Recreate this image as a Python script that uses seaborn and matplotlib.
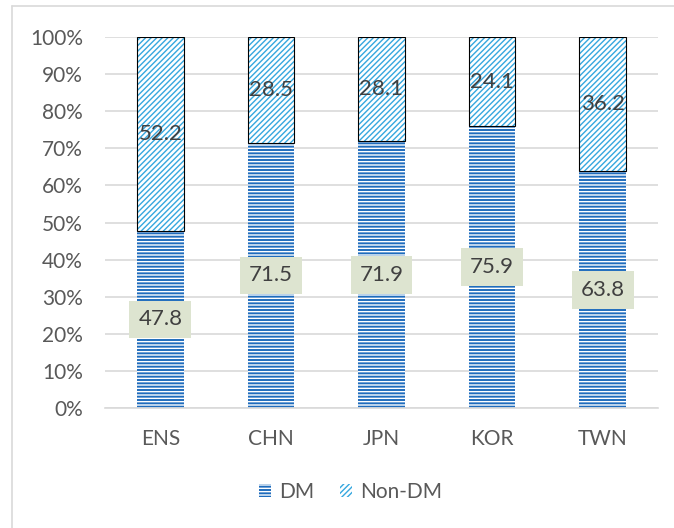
import pandas as pd
import matplotlib.pyplot as plt
import seaborn as sns
from matplotlib.lines import Line2D
from matplotlib.patches import Patch
from matplotlib.ticker import PercentFormatter

# chart values
countries = ["ENS", "CHN", "JPN", "KOR", "TWN"]
dm = [47.8, 71.5, 71.9, 75.9, 63.8]
non_dm = [52.2, 28.5, 28.1, 24.1, 36.2]

df = pd.DataFrame({"country": countries, "DM": dm, "Non-DM": non_dm})

sns.set_style("white")
plt.rcParams["font.family"] = ["Lato", "DejaVu Sans"]
plt.rcParams["hatch.linewidth"] = 1.0

dm_blue = "#1f6cbd"
hatch_blue = "#35a7df"
text_gray = "#595959"
label_gray = "#404040"
grid_gray = "#d9d9d9"

fig = plt.figure(figsize=(6.74, 5.28), dpi=100)
ax = fig.add_axes([0.156, 0.227, 0.820, 0.703])

# DM segment
sns.barplot(data=df, x="country", y="DM", color=dm_blue, width=0.42,
            saturation=1, linewidth=0, edgecolor="white", hatch="-----", ax=ax)
# Non-DM segment stacked on top
sns.barplot(data=df, x="country", y="Non-DM", color="white", width=0.42,
            saturation=1, linewidth=0, edgecolor=hatch_blue, hatch="//////",
            bottom=df["DM"].to_numpy(), ax=ax)
# outline of Non-DM segment
sns.barplot(data=df, x="country", y="Non-DM", color="black", width=0.42,
            fill=False, linewidth=0.8, bottom=df["DM"].to_numpy(), ax=ax)

for i, (a, b) in enumerate(zip(dm, non_dm)):
    ax.text(i, a / 2, f"{a:.1f}", ha="center", va="center", fontsize=16,
            color=label_gray,
            bbox=dict(boxstyle="square,pad=0.4", fc="#dde4d0", ec="none"))
    ax.text(i, a + b / 2, f"{b:.1f}", ha="center", va="center", fontsize=16,
            color=label_gray)

ax.set_ylim(0, 100)
ax.set_xlim(-0.5, 4.5)
ax.set_yticks(range(0, 101, 10))
ax.yaxis.set_major_formatter(PercentFormatter(decimals=0))
ax.set_xlabel("")
ax.set_ylabel("")
ax.grid(axis="y", color=grid_gray, linewidth=1.2)
ax.set_axisbelow(True)
for side in ["top", "right", "left"]:
    ax.spines[side].set_visible(False)
ax.spines["bottom"].set_color(grid_gray)
ax.spines["bottom"].set_linewidth(1.2)
ax.tick_params(axis="both", length=0, labelsize=15, colors=text_gray)
ax.tick_params(axis="y", pad=16)
ax.tick_params(axis="x", pad=15)

handles = [
    Patch(facecolor=dm_blue, edgecolor="white", hatch="-----", linewidth=0, label="DM"),
    Patch(facecolor="white", edgecolor=hatch_blue, hatch="//////", linewidth=0, label="Non-DM"),
]
leg = fig.legend(handles=handles, loc="center", bbox_to_anchor=(0.52, 0.068),
                 ncol=2, frameon=False, fontsize=15, handlelength=0.6,
                 handleheight=0.6, handletextpad=0.4, columnspacing=1.2)
for t in leg.get_texts():
    t.set_color(text_gray)

# chart area border (only top and left edges show in the crop)
fig.add_artist(Line2D([12 / 674, 12 / 674], [0, 1 - 6 / 528], color=grid_gray, linewidth=1.2))
fig.add_artist(Line2D([12 / 674, 1], [1 - 6 / 528, 1 - 6 / 528], color=grid_gray, linewidth=1.2))

fig.savefig("out.png", dpi=100)
